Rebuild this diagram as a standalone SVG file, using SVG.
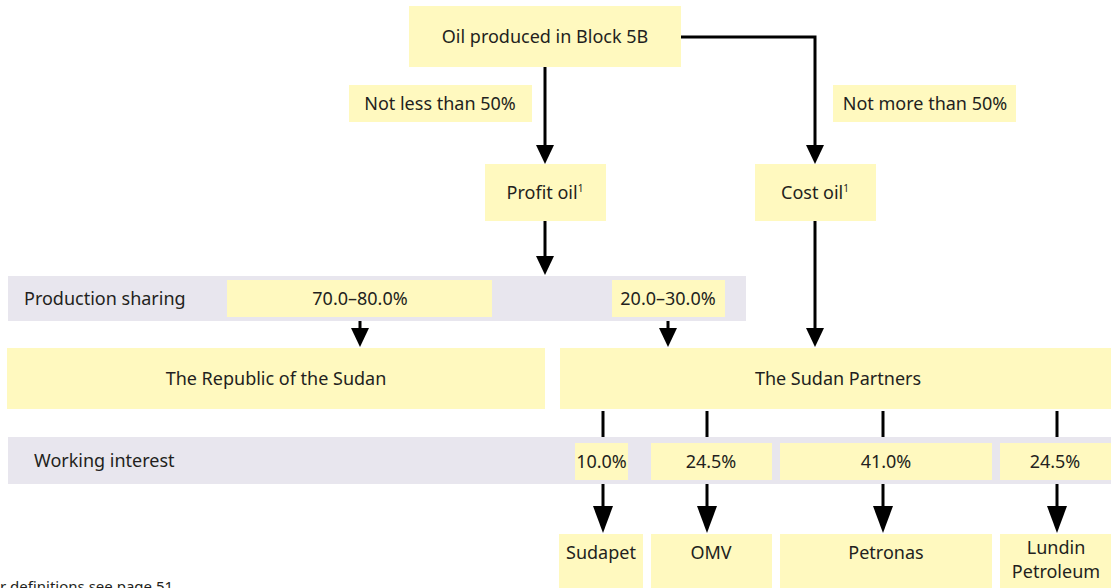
<svg xmlns="http://www.w3.org/2000/svg" width="1111" height="588" viewBox="0 0 1111 588">
<style>
.box{fill:#FFF9BF}
.band{fill:#E8E6EE}
text{font-family:"Noto Sans","Open Sans","Liberation Sans",sans-serif;font-size:18px;fill:#231F20}
.c{text-anchor:middle}
.ln{stroke:#000;stroke-width:3;fill:none}
.ah{fill:#000}
.sup{font-size:10px}
</style>
<rect width="1111" height="588" fill="#fff"/>
<g id="band-production"><rect class="band" x="8" y="276" width="738" height="45"/><text x="24" y="305">Production sharing</text></g>
<g id="band-working"><rect class="band" x="8" y="437" width="1103" height="47"/><text x="34" y="467">Working interest</text></g>
<g id="n-oil"><rect class="box" x="409" y="6" width="272" height="61"/><text class="c" x="545" y="43">Oil produced in Block 5B</text></g>
<g id="n-notless"><rect class="box" x="349" y="85" width="183" height="37"/><text class="c" x="440" y="110">Not less than 50%</text></g>
<g id="n-notmore"><rect class="box" x="833" y="85" width="183" height="37"/><text class="c" x="925" y="110">Not more than 50%</text></g>
<g id="n-profit"><rect class="box" x="485" y="164" width="121" height="57"/><text class="c" x="545" y="199">Profit oil<tspan class="sup" dy="-7">1</tspan></text></g>
<g id="n-cost"><rect class="box" x="755" y="164" width="121" height="57"/><text class="c" x="815" y="199">Cost oil<tspan class="sup" dy="-7">1</tspan></text></g>
<g id="n-p70"><rect class="box" x="227" y="280" width="265" height="37"/><text class="c" x="360" y="305">70.0–80.0%</text></g>
<g id="n-p20"><rect class="box" x="612" y="280" width="113" height="37"/><text class="c" x="668" y="305">20.0–30.0%</text></g>
<g id="n-republic"><rect class="box" x="7" y="348" width="538" height="61"/><text class="c" x="276" y="385">The Republic of the Sudan</text></g>
<g id="n-partners"><rect class="box" x="560" y="348" width="551" height="61"/><text class="c" x="838" y="385">The Sudan Partners</text></g>
<g id="n-w10"><rect class="box" x="575" y="443" width="53" height="37"/><text class="c" x="601.5" y="468">10.0%</text></g>
<g id="n-w245a"><rect class="box" x="651" y="443" width="121" height="37"/><text class="c" x="711" y="468">24.5%</text></g>
<g id="n-w41"><rect class="box" x="780" y="443" width="212" height="37"/><text class="c" x="886" y="468">41.0%</text></g>
<g id="n-w245b"><rect class="box" x="1000" y="443" width="111" height="37"/><text class="c" x="1055" y="468">24.5%</text></g>
<g id="n-sudapet"><rect class="box" x="559" y="534" width="84" height="54"/><text class="c" x="601" y="559">Sudapet</text></g>
<g id="n-omv"><rect class="box" x="651" y="534" width="121" height="54"/><text class="c" x="711" y="559">OMV</text></g>
<g id="n-petronas"><rect class="box" x="780" y="534" width="212" height="54"/><text class="c" x="886" y="559">Petronas</text></g>
<g id="n-lundin"><rect class="box" x="1000" y="534" width="111" height="54"/><text class="c" x="1056" y="554">Lundin</text><text class="c" x="1056" y="578">Petroleum</text></g>
<g id="connectors">
<line class="ln" x1="545" y1="67" x2="545" y2="146"/><polygon class="ah" points="536,145 554,145 545,164"/>
<path class="ln" d="M681 37 H815 V146"/><polygon class="ah" points="806,145 824,145 815,164"/>
<line class="ln" x1="545" y1="221" x2="545" y2="257"/><polygon class="ah" points="536,256 554,256 545,275"/>
<line class="ln" x1="815" y1="221" x2="815" y2="330"/><polygon class="ah" points="806,328 824,328 815,347"/>
<line class="ln" x1="360" y1="321" x2="360" y2="330"/><polygon class="ah" points="351,328 369,328 360,347"/>
<line class="ln" x1="668" y1="321" x2="668" y2="330"/><polygon class="ah" points="659,328 677,328 668,347"/>
<line class="ln" x1="603" y1="411" x2="603" y2="437"/>
<line class="ln" x1="707" y1="411" x2="707" y2="437"/>
<line class="ln" x1="883" y1="411" x2="883" y2="437"/>
<line class="ln" x1="1057" y1="411" x2="1057" y2="437"/>
<line class="ln" x1="603" y1="484" x2="603" y2="508"/><polygon class="ah" points="593,506 613,506 603,533"/>
<line class="ln" x1="707" y1="484" x2="707" y2="508"/><polygon class="ah" points="697,506 717,506 707,533"/>
<line class="ln" x1="883" y1="484" x2="883" y2="508"/><polygon class="ah" points="873,506 893,506 883,533"/>
<line class="ln" x1="1057" y1="484" x2="1057" y2="508"/><polygon class="ah" points="1047,506 1067,506 1057,533"/>
</g>
<text x="0" y="592" style="font-size:15px">r definitions see page 51</text>
</svg>
